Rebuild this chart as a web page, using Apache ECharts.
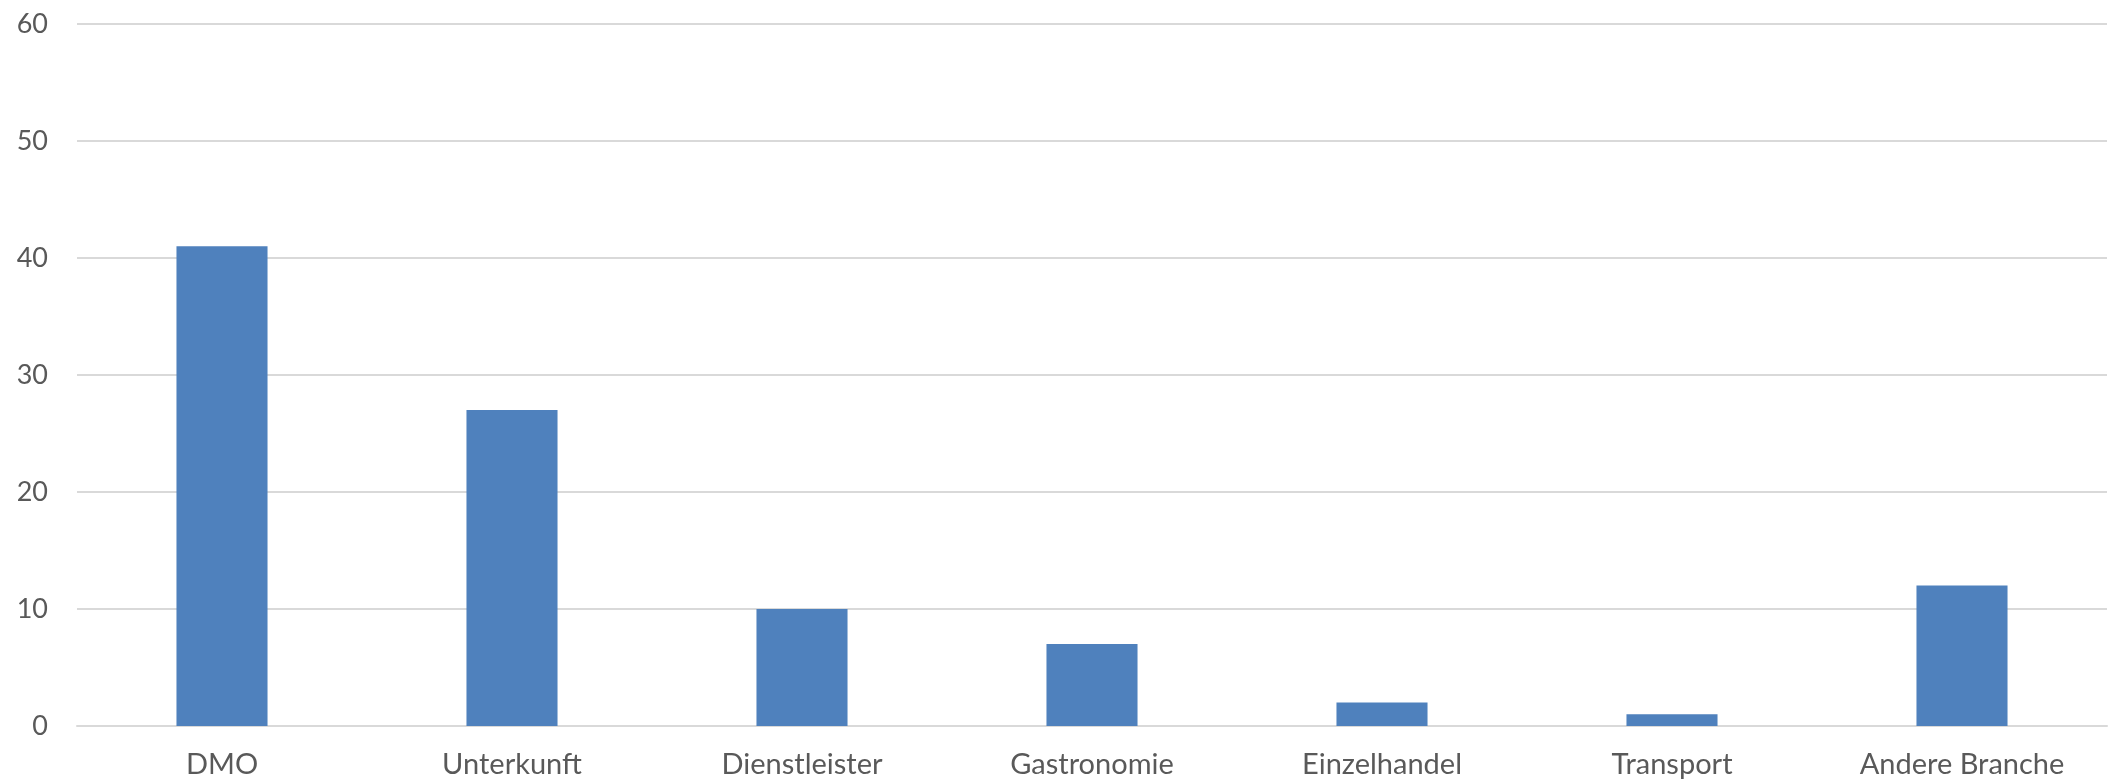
<!DOCTYPE html>
<html>
<head>
<meta charset="utf-8">
<script src="https://cdn.jsdelivr.net/npm/echarts@6/dist/echarts.min.js"></script>
<style>
  html, body { margin: 0; padding: 0; background: #fff; }
  #chart { width: 2116px; height: 783px; }
</style>
</head>
<body>
<div id="chart"></div>
<script>
// Anzahl der Teilnehmenden nach Branche
const categories = ['DMO', 'Unterkunft', 'Dienstleister', 'Gastronomie', 'Einzelhandel', 'Transport', 'Andere Branche'];
const counts = [41, 27, 10, 7, 2, 1, 12];
const yTicks = { min: 0, max: 60, interval: 10 };

const fontFamily = '"Gill Sans", "Gill Sans MT", Lato, "Open Sans", sans-serif';
const textColor = '#595959';

const chart = echarts.init(document.getElementById('chart'));
chart.setOption({
  animation: false,
  backgroundColor: '#ffffff',
  grid: { left: 77, right: 9, top: 24, bottom: 57, containLabel: false },
  xAxis: {
    type: 'category',
    data: categories,
    axisLine: { show: true, lineStyle: { color: '#d9d9d9', width: 2 } },
    axisTick: { show: false },
    axisLabel: { color: textColor, fontSize: 29, fontFamily: fontFamily, margin: 24 }
  },
  yAxis: {
    type: 'value',
    min: yTicks.min,
    max: yTicks.max,
    interval: yTicks.interval,
    axisLine: { show: false },
    axisTick: { show: false },
    splitLine: { lineStyle: { color: '#d9d9d9', width: 2 } },
    axisLabel: { color: textColor, fontSize: 27, fontFamily: fontFamily, margin: 29 }
  },
  series: [{
    type: 'bar',
    data: counts,
    barWidth: '31.4%',
    itemStyle: { color: '#4f81bd' }
  }]
});
</script>
</body>
</html>
